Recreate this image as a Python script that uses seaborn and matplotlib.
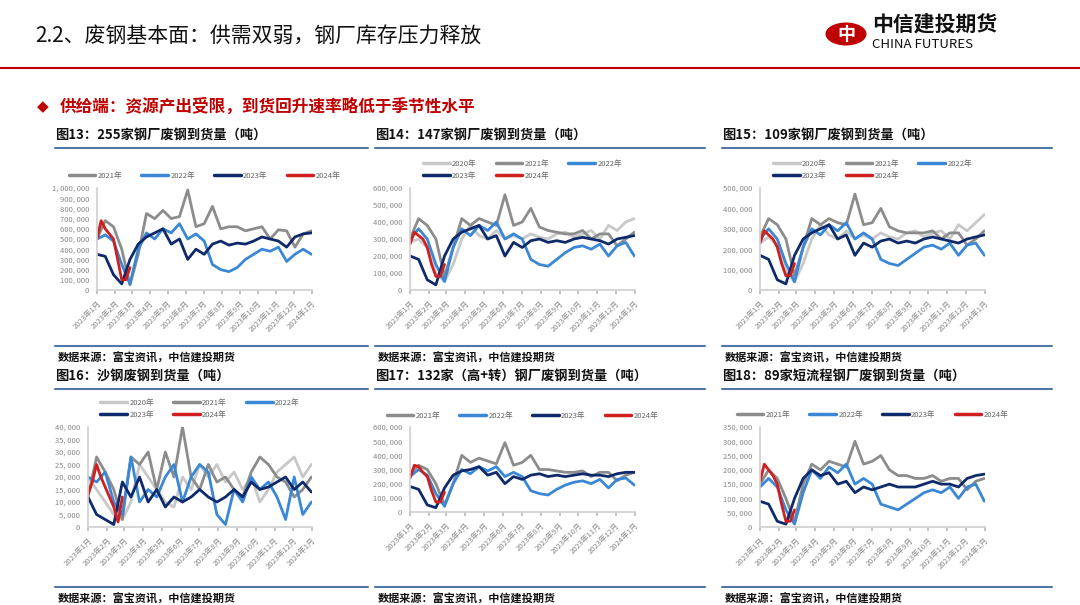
import numpy as np
import pandas as pd
import matplotlib
matplotlib.use("Agg")
import matplotlib.pyplot as plt
import seaborn as sns
from matplotlib.ticker import FuncFormatter
from matplotlib.patches import Circle

sns.set_theme(style="white")
plt.rcParams['font.family'] = ['Noto Sans CJK SC', 'DejaVu Sans']

month_labels = ["2023年1月","2023年2月","2023年3月","2023年4月","2023年5月","2023年6月","2023年7月",
                "2023年8月","2023年9月","2023年10月","2023年11月","2023年12月","2024年1月"]

c1_2021 = [500,680,620,400,50,350,750,700,780,700,720,980,620,650,820,600,620,620,580,600,620,500,590,580,420,550,580]
c1_2022 = [500,540,480,250,60,400,560,500,600,560,650,500,550,480,250,200,180,220,300,350,400,380,420,280,350,400,350]
c1_2023 = [350,330,150,60,300,450,520,560,600,450,500,300,400,350,450,480,440,460,450,480,520,500,480,420,520,550,560]
c1_2024 = [500,680,600,550,500,300,100,100,220]

c2_2020 = [280,300,250,100,50,150,300,380,320,300,350,300,320,300,330,310,300,330,340,310,330,350,300,380,350,400,420]
c2_2021 = [300,420,380,300,80,250,420,380,420,400,380,560,380,400,480,370,350,340,330,330,350,300,330,330,260,300,340]
c2_2022 = [300,360,300,150,50,250,360,320,380,350,400,300,330,300,180,150,140,180,220,250,260,240,270,200,260,280,200]
c2_2023 = [200,180,60,30,200,300,340,360,380,300,320,200,280,250,290,300,280,290,280,300,310,300,290,270,300,310,320]
c2_2024 = [270,340,320,300,250,150,80,80,150]

c3_2020 = [230,260,220,90,40,130,250,320,270,250,290,250,270,250,280,260,250,280,290,260,280,290,250,320,290,330,370]
c3_2021 = [260,350,320,250,70,210,350,320,350,330,320,470,320,330,400,310,290,280,280,280,290,250,280,280,220,250,290]
c3_2022 = [250,300,250,130,40,210,300,270,320,290,330,250,280,250,150,130,120,150,180,210,220,200,230,170,220,230,170]
c3_2023 = [170,150,50,30,170,250,280,300,320,250,270,170,230,210,240,250,230,240,230,250,260,250,240,230,250,260,270]
c3_2024 = [230,290,270,250,210,130,70,70,130]

c4_2020 = [20,15,10,5,3,10,25,20,15,10,8,20,15,25,20,25,18,22,15,20,10,15,22,25,28,20,25]
c4_2021 = [12,28,22,15,3,28,25,30,15,30,20,40,20,15,25,18,20,15,12,22,28,25,20,18,12,15,20]
c4_2022 = [20,18,22,10,5,28,10,15,12,20,25,10,20,25,22,5,1,15,10,20,15,18,12,3,20,5,10]
c4_2023 = [12,5,3,1,18,12,20,10,15,8,12,10,12,15,12,10,12,15,12,18,15,16,18,20,15,18,14]
c4_2024 = [13,18,25,20,16,12,8,2,12]

c5_2021 = [270,330,300,200,50,200,400,350,380,360,340,490,330,350,400,300,300,290,280,280,290,250,280,280,220,260,280]
c5_2022 = [250,300,260,130,40,200,300,270,320,290,320,250,280,250,150,130,120,160,190,210,220,200,230,170,230,240,190]
c5_2023 = [180,160,50,30,170,260,290,300,320,260,280,200,250,230,260,270,250,260,250,260,270,260,260,250,270,280,280]
c5_2024 = [240,330,320,280,250,150,70,70,140]

c6_2021 = [150,200,170,100,20,150,220,200,230,220,210,300,220,230,250,200,180,180,170,170,180,160,170,170,130,160,170]
c6_2022 = [140,170,140,60,10,120,200,170,210,190,220,150,170,150,80,70,60,80,100,120,130,120,140,100,140,150,90]
c6_2023 = [90,80,20,10,100,170,200,180,190,150,160,120,140,130,140,150,140,140,140,150,160,150,150,140,170,180,185]
c6_2024 = [160,220,200,180,150,80,20,20,60]

COL = {"2020年": "#c8c8c8", "2021年": "#8c8c8c", "2022年": "#3a87d6", "2023年": "#0f2a6b", "2024年": "#d01f1f"}

W, H = 1080, 605
fig = plt.figure(figsize=(10.8, 6.05), dpi=100)

def box(x0, y0, x1, y1):
    return [x0 / W, 1 - y1 / H, (x1 - x0) / W, (y1 - y0) / H]

# header
fig.text(35 / W, 1 - 36 / H, "2.2、废钢基本面：供需双弱，钢厂库存压力释放", fontsize=15, va="center", color="#111")
fig.add_artist(plt.Line2D([0, 1], [1 - 68 / H, 1 - 68 / H], color="#c00000", lw=1.5))
fig.add_artist(Circle((846 / W, 1 - 34 / H), 0.019, transform=fig.transFigure, color="#c00000", fill=True, lw=0))
fig.text(846 / W, 1 - 34 / H, "中", fontsize=13, weight="bold", color="white", ha="center", va="center")
fig.text(872 / W, 1 - 24 / H, "中信建投期货", fontsize=15, weight="bold", color="#111", va="center")
fig.text(872 / W, 1 - 45 / H, "CHINA FUTURES", fontsize=9.5, color="#111", va="center")
fig.text(37 / W, 1 - 107 / H, "◆", fontsize=11, color="#c00000", va="center", family=["DejaVu Sans"])
fig.text(60 / W, 1 - 107 / H, "供给端：资源产出受限，到货回升速率略低于季节性水平", fontsize=12, weight="bold", color="#c00000", va="center")

dates = pd.date_range("2023-01-01", periods=27, freq="14D")
dates24 = pd.date_range("2023-01-01", periods=9, freq="7D")
mticks = pd.date_range("2023-01-01", periods=13, freq="MS")

def fmt_comma(v, p):
    return "{:,}".format(int(round(v))).replace(",", ", ")

panels = [
    (55, 368, 125, "图13：255家钢厂废钢到货量（吨）", {"2021年": c1_2021, "2022年": c1_2022, "2023年": c1_2023, "2024年": c1_2024}, 1000, 100, 1000, (97, 188, 312, 290)),
    (375, 705, 125, "图14：147家钢厂废钢到货量（吨）", {"2020年": c2_2020, "2021年": c2_2021, "2022年": c2_2022, "2023年": c2_2023, "2024年": c2_2024}, 600, 100, 1000, (410, 188, 635, 290)),
    (722, 1052, 125, "图15：109家钢厂废钢到货量（吨）", {"2020年": c3_2020, "2021年": c3_2021, "2022年": c3_2022, "2023年": c3_2023, "2024年": c3_2024}, 500, 100, 1000, (760, 188, 985, 290)),
    (55, 368, 366, "图16：沙钢废钢到货量（吨）", {"2020年": c4_2020, "2021年": c4_2021, "2022年": c4_2022, "2023年": c4_2023, "2024年": c4_2024}, 40, 5, 1000, (88, 427, 312, 527)),
    (375, 705, 366, "图17：132家（高+转）钢厂废钢到货量（吨）", {"2021年": c5_2021, "2022年": c5_2022, "2023年": c5_2023, "2024年": c5_2024}, 600, 100, 1000, (410, 427, 635, 512)),
    (722, 1052, 366, "图18：89家短流程钢厂废钢到货量（吨）", {"2021年": c6_2021, "2022年": c6_2022, "2023年": c6_2023, "2024年": c6_2024}, 350, 50, 1000, (760, 427, 985, 527)),
]

for (x0, x1, ty, title, series, ymax, ystep, mult, ab) in panels:
    fig.text(x0 / W, 1 - (ty + 10) / H, title, fontsize=9.5, weight="bold", va="center", color="#111")
    fig.add_artist(plt.Line2D([x0 / W, x1 / W], [1 - (ty + 23) / H] * 2, color="#4f77a8", lw=1.5))
    sy = ty + 229
    fig.add_artist(plt.Line2D([x0 / W, x1 / W], [1 - (sy - 8) / H] * 2, color="#4f77a8", lw=1.5))
    fig.text((x0 + 3) / W, 1 - (sy + 4) / H, "数据来源：富宝资讯，中信建投期货", fontsize=8, style="italic", weight="bold", va="center", color="#111")

    ax = fig.add_axes(box(*ab))
    rows = []
    for name, vals in series.items():
        d = dates24 if name == "2024年" else dates
        for dt, v in zip(d, vals):
            rows.append({"date": dt, "val": v * mult, "year": name})
    df = pd.DataFrame(rows)
    sns.lineplot(data=df, x="date", y="val", hue="year", palette=COL, lw=2, ax=ax, legend=False)
    ax.set_ylim(0, ymax * mult)
    ax.set_yticks(np.arange(0, ymax + ystep / 2, ystep) * mult)
    ax.yaxis.set_major_formatter(FuncFormatter(fmt_comma))
    ax.set_xlim(mticks[0], mticks[-1])
    ax.set_xticks(mticks)
    ax.set_xticklabels(month_labels, rotation=45, ha="right", rotation_mode="anchor")
    ax.tick_params(labelsize=5.5, colors="#888", length=2)
    ax.tick_params(axis="x", length=3, color="#bbb", direction="out", bottom=True)
    ax.set_xlabel(""); ax.set_ylabel("")
    for s in ["top", "right"]:
        ax.spines[s].set_visible(False)
    ax.spines["left"].set_color("#d0d0d0"); ax.spines["bottom"].set_color("#d0d0d0")
    ax.set_facecolor("white")
    names = list(series.keys())
    if len(names) == 5:
        order = [names[0], names[3], names[1], names[4], names[2]]
        ncol = 3
    else:
        order = names
        ncol = 4
    handles = [plt.Line2D([], [], color=COL[n], lw=2.5) for n in order]
    ax.legend(handles, order, ncol=ncol, loc="lower center", bbox_to_anchor=(0.5, 1.05),
              frameon=False, fontsize=5.5, handlelength=3.5, columnspacing=2.5, labelcolor="#666",
              handletextpad=0.3, borderaxespad=0)

fig.savefig("out.png", dpi=100, facecolor="white")
